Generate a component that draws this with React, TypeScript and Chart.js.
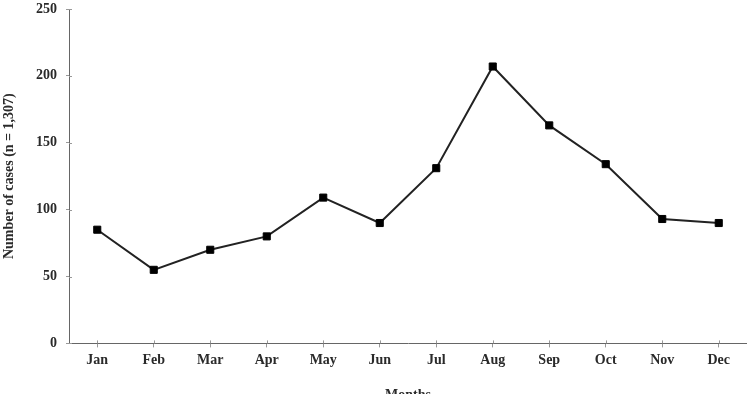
import React, { useEffect, useRef } from "react";
import { Chart, registerables } from "chart.js";

Chart.register(...registerables);

const months = ["Jan", "Feb", "Mar", "Apr", "May", "Jun", "Jul", "Aug", "Sep", "Oct", "Nov", "Dec"];
const cases = [85, 55, 70, 80, 109, 90, 131, 207, 163, 134, 93, 90];
const yTicks = [0, 50, 100, 150, 200, 250];

const FONT = "'Liberation Serif', 'DejaVu Serif', serif";
const W = 747;
const H = 404;

const innerTicks = {
  id: "innerTicks",
  afterDraw(chart: any) {
    const ctx = chart.ctx;
    const x = chart.scales.x;
    const y = chart.scales.y;
    const area = chart.chartArea;
    ctx.save();
    ctx.strokeStyle = "#999";
    ctx.lineWidth = 1;
    ctx.beginPath();
    y.ticks.forEach((_t: any, i: number) => {
      const py = Math.round(y.getPixelForTick(i)) + 0.5;
      ctx.moveTo(area.left, py);
      ctx.lineTo(area.left + 3, py);
    });
    x.ticks.forEach((_t: any, i: number) => {
      const px = Math.round(x.getPixelForTick(i)) + 0.5;
      ctx.moveTo(px, area.bottom);
      ctx.lineTo(px, area.bottom - 3);
    });
    ctx.stroke();
    ctx.restore();
  },
};

export default function App() {
  const ref = useRef<HTMLCanvasElement | null>(null);

  useEffect(() => {
    if (!ref.current) return;
    const chart = new Chart(ref.current, {
      type: "line",
      data: {
        labels: months,
        datasets: [
          {
            data: cases,
            borderColor: "#222",
            borderWidth: 2,
            pointStyle: "rect",
            pointRadius: 5,
            pointBackgroundColor: "#000",
            pointBorderColor: "#000",
            pointBorderWidth: 1,
            tension: 0,
            clip: false,
          },
        ],
      },
      options: {
        animation: false,
        responsive: false,
        maintainAspectRatio: false,
        layout: { autoPadding: false, padding: { top: 9, right: 0, bottom: 0, left: 0 } },
        plugins: { legend: { display: false }, tooltip: { enabled: false } },
        scales: {
          x: {
            offset: true,
            afterFit: (scale: any) => {
              scale.paddingLeft = 0;
              scale.paddingRight = 0;
            },
            grid: {
              offset: false,
              drawOnChartArea: false,
              drawTicks: true,
              tickLength: 4,
              color: "#999",
            },
            border: { color: "#666", width: 1 },
            ticks: {
              padding: 5,
              color: "#2a2a2a",
              font: { family: FONT, size: 14, weight: "bold" },
              maxRotation: 0,
            },
            title: {
              display: true,
              text: "Months",
              color: "#2a2a2a",
              font: { family: FONT, size: 14, weight: "bold" },
              padding: { top: 13, bottom: 0 },
            },
          },
          y: {
            min: 0,
            max: 250,
            afterBuildTicks: (scale: any) => {
              scale.ticks = yTicks.map((v) => ({ value: v }));
            },
            afterFit: (scale: any) => {
              scale.width = 69;
              scale.paddingTop = 0;
              scale.paddingBottom = 0;
            },
            grid: {
              drawOnChartArea: false,
              drawTicks: true,
              tickLength: 3,
              color: "#999",
            },
            border: { color: "#666", width: 1 },
            ticks: {
              padding: 9,
              color: "#2a2a2a",
              font: { family: FONT, size: 14, weight: "bold" },
            },
            title: {
              display: true,
              text: "Number of cases (n = 1,307)",
              color: "#2a2a2a",
              font: { family: FONT, size: 14, weight: "bold" },
              padding: { top: 1, bottom: 0 },
            },
          },
        },
      },
      plugins: [innerTicks],
    });
    return () => chart.destroy();
  }, []);

  return (
    <div style={{ position: "absolute", left: 0, top: 0, width: 747, height: 394, overflow: "hidden", background: "#fff" }}>
      <canvas ref={ref} width={W} height={H} style={{ display: "block" }} />
    </div>
  );
}
